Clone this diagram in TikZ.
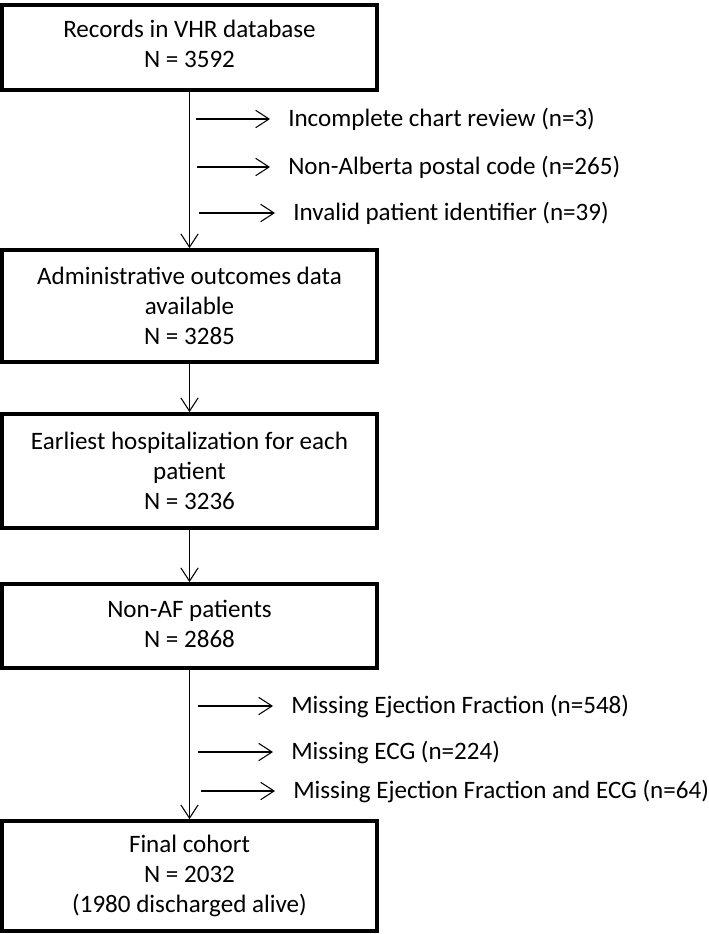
\documentclass[tikz,border=0pt]{standalone}
\usepackage{fontspec}
\setmainfont{Carlito}
\usetikzlibrary{arrows.meta}
\begin{document}
\begin{tikzpicture}[x=0.75pt,y=-0.75pt,font=\fontsize{18.8}{22.5}\selectfont,
  stage/.style={draw,line width=2.8pt,minimum width=281pt,align=center,inner sep=0pt},
  flow/.style={line width=0.8pt,-{Straight Barb[length=10pt,width=13pt]}},
  side/.style={flow,shorten >=13.5pt},
  excl/.style={anchor=west,inner sep=0pt}]
\useasboundingbox (0,0) rectangle (709,934);
% stages of the cohort
\node[stage,minimum height=63.75pt,text depth=5pt] (recs) at (189.5,47.5) {Records in VHR database\\N = 3592};
\node[stage,minimum height=84pt] (admin) at (189.5,306) {Administrative outcomes data\\available\\N = 3285};
\node[stage,minimum height=85.5pt] (early) at (189.5,471) {Earliest hospitalization for each\\patient\\N = 3236};
\node[stage,minimum height=63pt,text depth=3pt] (nonaf) at (189.5,626) {Non-AF patients\\N = 2868};
\node[stage,minimum height=82.5pt] (final) at (189.5,876) {Final cohort\\N = 2032\\(1980 discharged alive)};
\draw[flow] (recs) -- (admin);
\draw[flow] (admin) -- (early);
\draw[flow] (early) -- (nonaf);
\draw[flow] (nonaf) -- (final);
% exclusions
\foreach [count=\i] \y/\xs/\xt/\txt in {119/196/288/{Incomplete chart review (n=3)},
  167/197/288/{Non-Alberta postal code (n=265)},213/199/293/{Invalid patient identifier (n=39)},
  706/198/291/{Missing Ejection Fraction (n=548)},752/198/291/{Missing ECG (n=224)},
  791/201/293/{Missing Ejection Fraction and ECG (n=64)}}
{\coordinate (st\i) at (\xs,\y);
\node[excl] (ex\i) at (\xt,\y) {\txt};
\draw[side] (st\i) -- (ex\i);}
\end{tikzpicture}
\end{document}
